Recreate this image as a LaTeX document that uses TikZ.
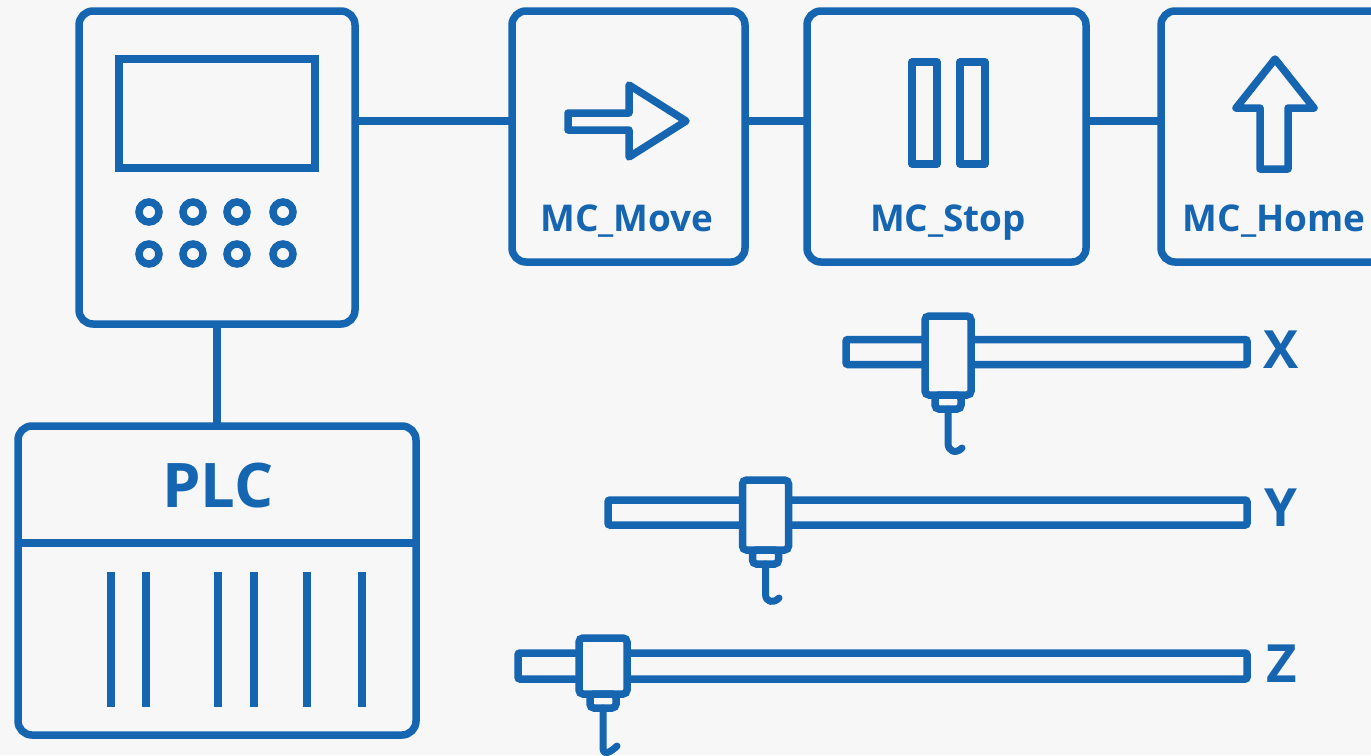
\documentclass[tikz,border=0pt]{standalone}
\usepackage{fontspec}
\setmainfont{Open Sans}
\definecolor{plcblue}{RGB}{21,101,176}
\definecolor{plcback}{RGB}{247,247,248}
\def\px{0.02cm}
\tikzset{
  box/.style={draw=plcblue,line width=7.5*\px,rounded corners=14*\px,fill=plcback,inner sep=0pt,outer sep=0pt},
  rail/.style={draw=plcblue,line width=7.5*\px,rounded corners=2*\px,fill=plcback,inner sep=0pt,outer sep=0pt},
  carriage/.style={draw=plcblue,line width=7.5*\px,rounded corners=4*\px,fill=plcback,inner sep=0pt,outer sep=0pt},
  button/.style={circle,draw=plcblue,line width=7.5*\px,minimum size=20*\px,inner sep=0pt,outer sep=0pt},
  label/.style={text=plcblue,font=\fontsize{21}{23}\selectfont\bfseries,inner sep=0pt,anchor=base},
  axis/.style={text=plcblue,font=\fontsize{30}{32}\selectfont\bfseries,inner sep=0pt},
  wire/.style={draw=plcblue,line width=7.5*\px},
  hook/.style={draw=plcblue,line width=7*\px,line cap=round,line join=round}
}
\begin{document}
\begin{tikzpicture}[x=\px,y=-\px]
        \fill[plcback] (0,0) rectangle (1371,755);
        \clip (0,0) rectangle (1371,755);
        % controller and function blocks
        \node[box,minimum width=276*\px,minimum height=313*\px] (hmi) at (217,167.5) {};
        \node[box,minimum width=233*\px,minimum height=251*\px] (move) at (628.5,136.5) {};
        \node[box,minimum width=279*\px,minimum height=251*\px] (stop) at (946.5,136.5) {};
        \node[box,minimum width=240*\px,minimum height=251*\px] (home) at (1281,136.5) {};
        \node[box,minimum width=398*\px,minimum height=309*\px] (plc) at (217,580.5) {};
        \coordinate (busline) at (0,121);
        \draw[wire] (hmi.east |- busline) -- (move.west |- busline);
        \draw[wire] (move.east |- busline) -- (stop.west |- busline);
        \draw[wire] (stop.east |- busline) -- (home.west |- busline);
        \draw[wire] (hmi.south) -- (plc.north);
        % panel of the controller
        \node[draw=plcblue,line width=7.5*\px,minimum width=196*\px,minimum height=109*\px,inner sep=0pt,outer sep=0pt] (screen) at (217,113.5) {};
        \node[button] (b1) at (149,212) {};
        \node[button] (b2) at (193,212) {};
        \node[button] (b3) at (237,212) {};
        \node[button] (b4) at (283,212) {};
        \node[button] (b5) at (149,254) {};
        \node[button] (b6) at (193,254) {};
        \node[button] (b7) at (237,254) {};
        \node[button] (b8) at (283,254) {};
        % PLC
        \node[text=plcblue,font=\fontsize{35}{37}\selectfont\bfseries,inner sep=0pt] (plctitle) at (218,486) {PLC};
        \draw[wire] (plc.west |- 0,543) -- (plc.east |- 0,543);
        \draw[wire] (111,572) -- (111,707);
        \draw[wire] (146,572) -- (146,707);
        \draw[wire] (218,572) -- (218,707);
        \draw[wire] (254,572) -- (254,707);
        \draw[wire] (307,572) -- (307,707);
        \draw[wire] (362,572) -- (362,707);
        % icons
        \draw[wire,line join=round] (568,113) -- (629,113) -- (629,85) -- (686,121) -- (629,157) -- (629,130) -- (568,130) -- cycle;
        \draw[wire,line join=round] (912,62) rectangle (937,164);
        \draw[wire,line join=round] (960,62) rectangle (985,164);
        \draw[wire,line join=round] (1275,59) -- (1314,108) -- (1288,108) -- (1288,169) -- (1260,169) -- (1260,108) -- (1236,108) -- cycle;
        \node[label] (movelabel) at (627,231) {MC\_Move};
        \node[label] (stoplabel) at (948,231) {MC\_Stop};
        \node[label] (homelabel) at (1274,231) {MC\_Home};
        % X axis
        \node[rail,minimum width=401*\px,minimum height=25*\px] (xrail) at (1046.5,352) {};
        \node[carriage,minimum width=46*\px,minimum height=79*\px] (xcar) at (948,355.5) {};
        \node[carriage,minimum width=26*\px,minimum height=14*\px,anchor=north] (xhead) at (xcar.south) {};
        \coordinate (xhook) at (962,448);
        \draw[hook] (xhead.south) -- ++(0,34) to[out=-90,in=225,looseness=1.5] (xhook);
        \node[axis] (xlabel) at (1281,350) {X};
        % Y axis
        \node[rail,minimum width=639*\px,minimum height=25*\px] (yrail) at (927.5,512.5) {};
        \node[carriage,minimum width=46*\px,minimum height=70*\px] (ycar) at (765.5,515) {};
        \node[carriage,minimum width=26*\px,minimum height=14*\px,anchor=north] (yhead) at (ycar.south) {};
        \coordinate (yhook) at (779,598);
        \draw[hook] (yhead.south) -- ++(0,30) to[out=-90,in=225,looseness=1.5] (yhook);
        \node[axis] (ylabel) at (1281,508) {Y};
        % Z axis
        \node[rail,minimum width=729*\px,minimum height=26*\px] (zrail) at (882.5,666) {};
        \node[carriage,minimum width=48*\px,minimum height=56*\px] (zcar) at (603,666) {};
        \node[carriage,minimum width=26*\px,minimum height=14*\px,anchor=north] (zhead) at (zcar.south) {};
        \coordinate (zhook) at (617,746);
        \draw[hook] (zhead.south) -- ++(0,40) to[out=-90,in=225,looseness=1.5] (zhook);
        \node[axis] (zlabel) at (1282,664) {Z};
    \end{tikzpicture}
\end{document}
